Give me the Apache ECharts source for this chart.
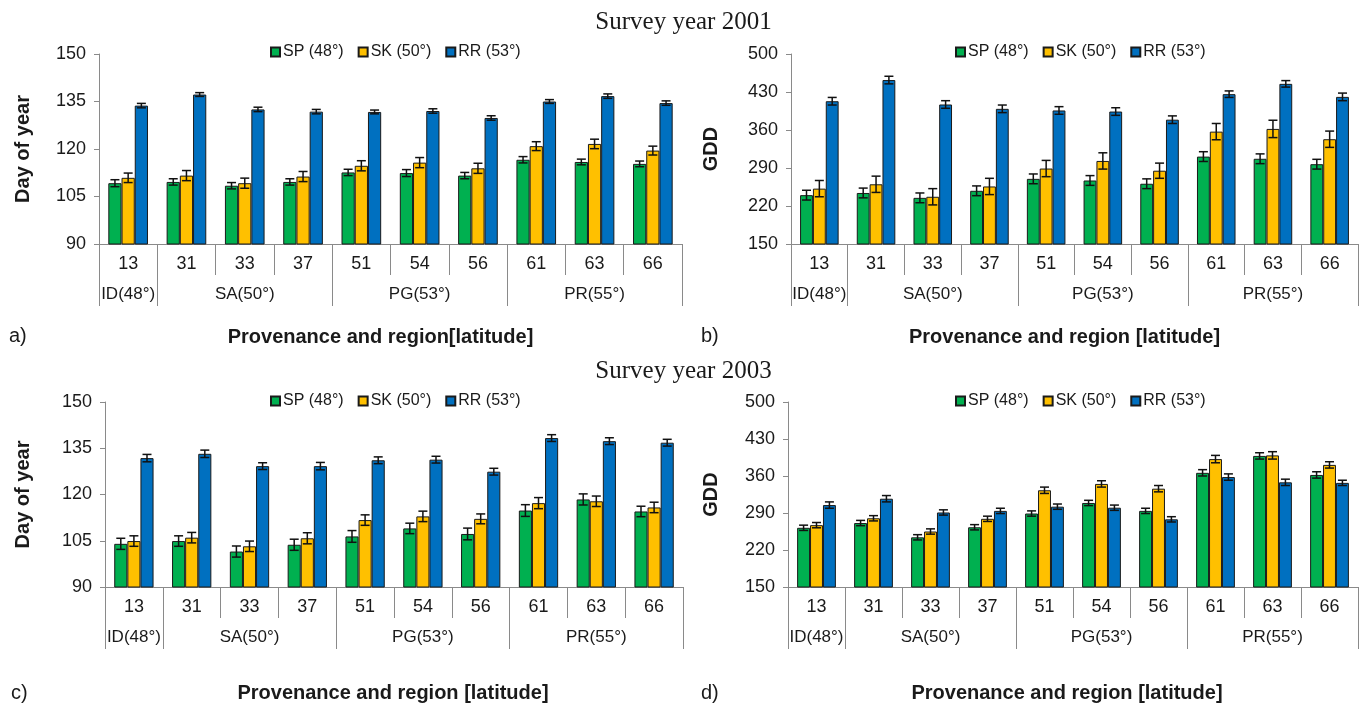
<!DOCTYPE html>
<html>
<head>
<meta charset="utf-8">
<script src="https://cdn.jsdelivr.net/npm/echarts@6/dist/echarts.min.js"></script>
<style>
  html, body { margin: 0; padding: 0; background: #ffffff; }
  #chart { width: 1367px; height: 706px; }
</style>
</head>
<body>
<div id="chart"></div>
<script>
// Provenances (x categories) and the regions they belong to
const provenances = ['13', '31', '33', '37', '51', '54', '56', '61', '63', '66'];
const regions = ['ID(48°)', 'SA(50°)', 'PG(53°)', 'PR(55°)'];
const regionSpans = [1, 3, 3, 3];

// Test sites (series)
const siteNames = ['SP (48°)', 'SK (50°)', 'RR (53°)'];
const siteColors = ['#00b050', '#ffc000', '#0070c0'];

// Value-axis ticks
const dayAxis = { min: 90, max: 150, step: 15 };
const gddAxis = { min: 150, max: 500, step: 70 };

// 2001 – day of year of bud burst (mean) and error
const doy2001SP = [109.2, 109.6, 108.4, 109.6, 112.6, 112.4, 111.6, 116.6, 115.9, 115.3];
const doy2001SK = [110.9, 111.6, 109.2, 111.3, 114.7, 115.7, 113.9, 120.9, 121.6, 119.5];
const doy2001RR = [133.7, 137.2, 132.5, 131.8, 131.7, 132.0, 129.8, 135.0, 136.7, 134.5];
const doy2001SPErr = [1.1, 1.0, 1.0, 1.0, 1.0, 1.1, 1.0, 1.0, 0.9, 0.9];
const doy2001SKErr = [1.5, 1.6, 1.6, 1.6, 1.6, 1.6, 1.6, 1.4, 1.5, 1.4];
const doy2001RRErr = [0.7, 0.6, 0.7, 0.7, 0.6, 0.7, 0.7, 0.6, 0.7, 0.7];

// 2001 – growing degree days
const gdd2001SP = [240, 244, 235, 248, 270, 267, 261, 311, 307, 297];
const gdd2001SK = [252, 260, 237, 256, 289, 303, 285, 357, 362, 343];
const gdd2001RR = [413, 452, 407, 399, 396, 394, 379, 426, 445, 421];
const gdd2001SPErr = [9, 9, 9, 9, 9, 9, 9, 9, 9, 9];
const gdd2001SKErr = [15, 15, 15, 15, 15, 15, 14, 15, 16, 15];
const gdd2001RRErr = [7, 7, 7, 7, 7, 7, 7, 6, 6, 7];

// 2003 – day of year
const doy2003SP = [104.0, 104.9, 101.5, 103.7, 106.4, 109.0, 107.2, 114.8, 118.4, 114.5];
const doy2003SK = [104.9, 106.0, 103.2, 105.8, 111.7, 112.9, 112.1, 117.2, 117.8, 115.8];
const doy2003RR = [131.8, 133.2, 129.2, 129.2, 131.1, 131.3, 127.4, 138.3, 137.3, 136.8];
const doy2003SPErr = [1.8, 1.7, 1.8, 1.8, 1.9, 1.7, 1.9, 1.9, 1.8, 1.7];
const doy2003SKErr = [1.7, 1.7, 1.7, 1.8, 1.7, 1.7, 1.6, 1.8, 1.7, 1.7];
const doy2003RRErr = [1.2, 1.2, 1.1, 1.2, 1.1, 1.1, 1.1, 1.1, 1.1, 1.1];

// 2003 – growing degree days
const gdd2003SP = [262, 271, 244, 263, 289, 309, 294, 366, 398, 362];
const gdd2003SK = [267, 280, 255, 279, 333, 345, 336, 392, 399, 381];
const gdd2003RR = [305, 317, 291, 294, 302, 300, 278, 358, 348, 347];
const gdd2003SPErr = [5, 5, 5, 5, 5, 5, 5, 6, 6, 6];
const gdd2003SKErr = [5, 5, 5, 5, 6, 6, 6, 7, 7, 6];
const gdd2003RRErr = [6, 6, 5, 5, 5, 5, 5, 6, 6, 5];

// ---------------------------------------------------------------
const FONT = "'Liberation Sans', Arial, sans-serif";
const TEXT = '#1a1a1a';
const AXIS_GREY = '#8a8a8a';
const CATEGORY_GAP = 0.32;

// region label sits under the middle provenance of its span;
// boundary ticks sit at the first provenance of each span
const regionLabelAt = {};
const regionStarts = [];
{
  let start = 0;
  regions.forEach((r, k) => {
    regionStarts.push(start);
    regionLabelAt[start + Math.floor((regionSpans[k] - 1) / 2)] = r;
    start += regionSpans[k];
  });
}

const panels = [
  { grid: { left: 99, right: 685, top: 54, height: 190 }, axis: dayAxis, yName: 'Day of year', yNameGap: 66,
    xName: 'Provenance and region[latitude]', xNameGap: 83, xNameShift: 20, legend: { left: 265, top: 39 },
    values: [doy2001SP, doy2001SK, doy2001RR], errors: [doy2001SPErr, doy2001SKErr, doy2001RRErr] },
  { grid: { left: 791, right: 9, top: 54, height: 190 }, axis: gddAxis, yName: 'GDD', yNameGap: 70,
    xName: 'Provenance and region [latitude]', xNameGap: 83, xNameShift: 20, legend: { left: 950, top: 39 },
    values: [gdd2001SP, gdd2001SK, gdd2001RR], errors: [gdd2001SPErr, gdd2001SKErr, gdd2001RRErr] },
  { grid: { left: 105, right: 684, top: 402, height: 185 }, axis: dayAxis, yName: 'Day of year', yNameGap: 72,
    xName: 'Provenance and region [latitude]', xNameGap: 96, xNameShift: 2, legend: { left: 265, top: 388 },
    values: [doy2003SP, doy2003SK, doy2003RR], errors: [doy2003SPErr, doy2003SKErr, doy2003RRErr] },
  { grid: { left: 788, right: 9, top: 402, height: 185 }, axis: gddAxis, yName: 'GDD', yNameGap: 67,
    xName: 'Provenance and region [latitude]', xNameGap: 96, xNameShift: 12, legend: { left: 950, top: 388 },
    values: [gdd2003SP, gdd2003SK, gdd2003RR], errors: [gdd2003SPErr, gdd2003SKErr, gdd2003RRErr] }
];

const grids = [], xAxes = [], yAxes = [], series = [], legends = [];

panels.forEach((p, g) => {
  grids.push(Object.assign({ containLabel: false }, p.grid));

  // provenance row
  xAxes.push({
    type: 'category', gridIndex: g, data: provenances,
    axisLine: { show: true, lineStyle: { color: AXIS_GREY, width: 1 } },
    axisTick: { show: true, length: 31, interval: 0, lineStyle: { color: AXIS_GREY } },
    axisLabel: { interval: 0, margin: 11, fontFamily: FONT, fontSize: 18, color: TEXT },
    name: p.xName, nameLocation: 'middle', nameGap: p.xNameGap,
    nameTextStyle: { fontFamily: FONT, fontSize: 20, fontWeight: 'bold', color: TEXT,
      padding: [0, p.xNameShift, 0, 0] }
  });
  // region row underneath
  xAxes.push({
    type: 'category', gridIndex: g, data: provenances, position: 'bottom', offset: 31,
    axisLine: { show: false },
    axisTick: { show: true, length: 31, interval: (i) => regionStarts.includes(i),
      lineStyle: { color: AXIS_GREY } },
    axisLabel: { interval: (i) => regionLabelAt[i] !== undefined, margin: 11,
      formatter: (v, i) => regionLabelAt[i] || '',
      fontFamily: FONT, fontSize: 17, color: TEXT }
  });

  yAxes.push({
    type: 'value', gridIndex: g, min: p.axis.min, max: p.axis.max, interval: p.axis.step,
    splitLine: { show: false },
    axisLine: { show: true, lineStyle: { color: AXIS_GREY } },
    axisTick: { show: true, length: 5, lineStyle: { color: AXIS_GREY } },
    axisLabel: { margin: 13, fontFamily: FONT, fontSize: 18, color: TEXT },
    name: p.yName, nameLocation: 'middle', nameGap: p.yNameGap, nameRotate: 90,
    nameTextStyle: { fontFamily: FONT, fontSize: 20, fontWeight: 'bold', color: TEXT }
  });

  siteNames.forEach((name, k) => {
    series.push({
      type: 'bar', name, xAxisIndex: g * 2, yAxisIndex: g,
      data: p.values[k],
      barGap: '0%', barCategoryGap: (CATEGORY_GAP * 100) + '%',
      itemStyle: { color: siteColors[k], borderColor: '#1a1a1a', borderWidth: 1 },
      silent: true
    });
  });

  siteNames.forEach((name, k) => {
    const vals = p.values[k], errs = p.errors[k];
    series.push({
      type: 'custom', name: name + ' ±', xAxisIndex: g * 2, yAxisIndex: g, z: 5, silent: true,
      data: vals.map((v, i) => [i, v - errs[i], v + errs[i]]),
      encode: { x: 0, y: [1, 2] },
      renderItem: (params, api) => {
        const i = api.value(0);
        const hi = api.coord([i, api.value(2)]);
        const lo = api.coord([i, api.value(1)]);
        const band = api.size([1, 0])[0];
        const barW = band * (1 - CATEGORY_GAP) / 3;
        const x = hi[0] + (k - 1) * barW;
        const half = 4.5;
        const style = { stroke: '#111111', lineWidth: 1.5 };
        return {
          type: 'group',
          children: [
            { type: 'line', shape: { x1: x, y1: hi[1], x2: x, y2: lo[1] }, style },
            { type: 'line', shape: { x1: x - half, y1: hi[1], x2: x + half, y2: hi[1] }, style },
            { type: 'line', shape: { x1: x - half, y1: lo[1], x2: x + half, y2: lo[1] }, style }
          ]
        };
      }
    });
  });

  legends.push({
    data: siteNames, left: p.legend.left, top: p.legend.top, orient: 'horizontal',
    selectedMode: false, icon: 'rect', itemWidth: 9, itemHeight: 9, itemGap: 14,
    textStyle: { fontFamily: FONT, fontSize: 16, color: TEXT, padding: [0, 0, 0, -2] }
  });
});

const titleStyle = { fontFamily: "'Liberation Serif', 'Times New Roman', serif", fontSize: 25,
  fontWeight: 'normal', color: TEXT };
const tagStyle = { fontFamily: FONT, fontSize: 20, fontWeight: 'normal', color: TEXT };

const option = {
  backgroundColor: '#ffffff',
  animation: false,
  title: [
    { text: 'Survey year 2001', left: 'center', top: 5, textStyle: titleStyle },
    { text: 'Survey year 2003', left: 'center', top: 354, textStyle: titleStyle },
    { text: 'a)', left: 4, top: 321, textStyle: tagStyle },
    { text: 'b)', left: 696, top: 321, textStyle: tagStyle },
    { text: 'c)', left: 6, top: 678, textStyle: tagStyle },
    { text: 'd)', left: 696, top: 678, textStyle: tagStyle }
  ],
  legend: legends,
  grid: grids,
  xAxis: xAxes,
  yAxis: yAxes,
  series
};

const chart = echarts.init(document.getElementById('chart'), null, { renderer: 'canvas' });
chart.setOption(option);
</script>
</body>
</html>
